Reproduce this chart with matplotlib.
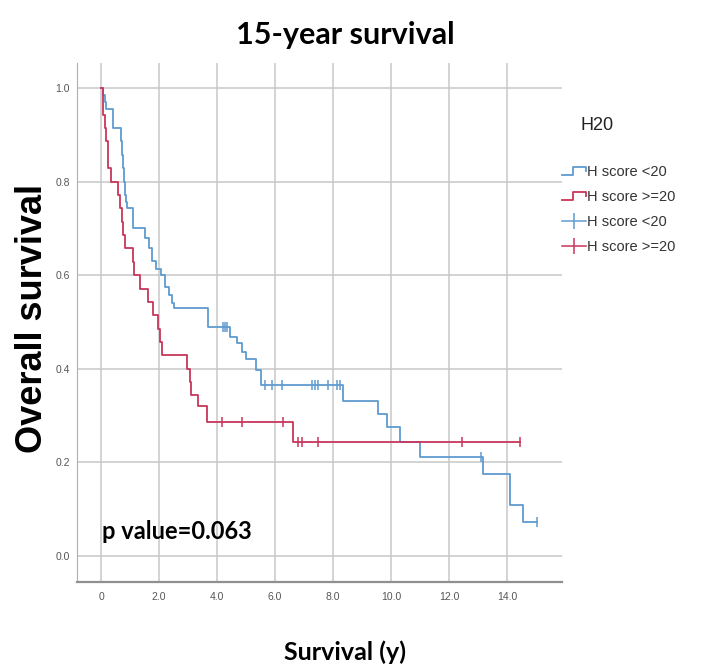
import matplotlib
matplotlib.use("Agg")
import matplotlib.pyplot as plt
import numpy as np
from matplotlib.lines import Line2D
from matplotlib.legend_handler import HandlerBase

# Kaplan-Meier steps: (time of event, survival after it)
low_times = [0.0, 0.05, 0.12, 0.15, 0.40, 0.70, 0.72, 0.76, 0.78, 0.82, 0.85, 0.90,
             1.10, 1.50, 1.65, 1.75, 1.90, 2.05, 2.20, 2.35, 2.45, 2.50, 3.70,
             4.45, 4.70, 4.85, 5.00, 5.35, 5.50, 8.34, 9.55, 9.86, 10.30, 11.00,
             13.17, 14.10, 14.55]
low_surv = [1.0, 0.985, 0.97, 0.955, 0.914, 0.886, 0.857, 0.829, 0.80, 0.771, 0.757, 0.743,
            0.70, 0.68, 0.657, 0.63, 0.614, 0.60, 0.575, 0.557, 0.54, 0.53, 0.49,
            0.467, 0.455, 0.435, 0.42, 0.397, 0.365, 0.332, 0.304, 0.275, 0.243, 0.211,
            0.176, 0.108, 0.072]
low_censored = [4.20, 4.28, 4.35, 5.66, 5.90, 6.24, 7.28, 7.38, 7.48, 7.83, 8.14, 8.24,
                13.10, 15.03]

high_times = [0.0, 0.05, 0.08, 0.12, 0.18, 0.22, 0.25, 0.33, 0.57, 0.65, 0.72, 0.76,
              0.82, 1.10, 1.12, 1.35, 1.60, 1.80, 1.97, 2.03, 2.10, 2.95, 3.07,
              3.10, 3.35, 3.65, 6.62]
high_surv = [1.0, 0.971, 0.943, 0.914, 0.886, 0.857, 0.829, 0.80, 0.771, 0.743, 0.714, 0.686,
             0.657, 0.629, 0.60, 0.571, 0.543, 0.514, 0.486, 0.457, 0.429, 0.40, 0.371,
             0.343, 0.32, 0.286, 0.243]
high_censored = [4.17, 4.86, 6.28, 6.80, 6.93, 7.48, 12.45, 14.45]

x_ticks = [0, 2, 4, 6, 8, 10, 12, 14]
x_ticklabels = ["0", "2.0", "4.0", "6.0", "8.0", "10.0", "12.0", "14.0"]
y_ticks = [0.0, 0.2, 0.4, 0.6, 0.8, 1.0]
legend_labels = ["H score <20", "H score >=20", "H score <20", "H score >=20"]

blue = "#5f9bd0"
red = "#c8365a"


def surv_at(times, surv, t):
    i = np.searchsorted(times, t, side="right") - 1
    return np.asarray(surv)[i]


def draw_km(ax, times, surv, censored, color):
    end = max(times[-1], max(censored))
    step, = ax.step(times + [end], surv + [surv[-1]], where="post", color=color, lw=1.3)
    cens, = ax.plot(censored, surv_at(times, surv, censored), ls="none", marker="|",
                    ms=7, mew=1.1, color=color)
    return step, cens


class StepHandler(HandlerBase):
    # SPSS style step symbol for the survival lines
    def create_artists(self, legend, orig_handle, xdescent, ydescent, width, height,
                       fontsize, trans):
        x0, y0 = -xdescent, -ydescent
        xm = x0 + 0.45 * width
        xs = [x0, xm, xm, x0 + width, x0 + width]
        ys = [y0 + 0.1 * height, y0 + 0.1 * height, y0 + 0.9 * height,
              y0 + 0.9 * height, y0 + 0.55 * height]
        line = Line2D(xs, ys, color=orig_handle.get_color(), lw=1.3)
        line.set_transform(trans)
        return [line]


fig = plt.figure(figsize=(7.01, 6.67), dpi=100)
ax = fig.add_axes([0.110, 0.1274, 0.692, 0.778])

low_step, _ = draw_km(ax, low_times, low_surv, low_censored, blue)
high_step, _ = draw_km(ax, high_times, high_surv, high_censored, red)

ax.set_xlim(-0.83, 15.9)
ax.set_ylim(-0.0556, 1.053)
ax.set_xticks(x_ticks)
ax.set_xticklabels(x_ticklabels)
ax.set_yticks(y_ticks)
ax.set_yticklabels([f"{v:.1f}" for v in y_ticks])
ax.tick_params(length=0, pad=7, labelsize=7.5, labelcolor="#555555")
ax.tick_params(axis="y", pad=5)
for lab in ax.get_xticklabels() + ax.get_yticklabels():
    lab.set_family("Liberation Sans")
ax.grid(True, color="#c8c8c8", lw=1.1)
ax.set_axisbelow(True)
for s in ["top", "right"]:
    ax.spines[s].set_visible(False)
ax.spines["left"].set_color("#b0b0b0")
ax.spines["bottom"].set_color("#909090")
ax.spines["bottom"].set_linewidth(1.6)

ax.set_ylabel("Overall survival", fontsize=26, fontweight="bold",
              family="Liberation Sans")
ax.yaxis.set_label_coords(-0.056, 0.507)
ax.set_xlabel("Survival (y)", fontsize=18, fontweight="bold", family="Lato")
ax.xaxis.set_label_coords(0.553, -0.113)

fig.text(0.492, 0.948, "15-year survival", ha="center", va="center",
         fontsize=22, fontweight="bold", family="Lato")
ax.text(0.03, 0.052, "p value=0.063", ha="left", va="center",
        fontsize=17, fontweight="bold", family="Lato")

low_cens_proxy = Line2D([], [], color=blue, lw=1.1, marker="|", ms=12, mew=1.1)
high_cens_proxy = Line2D([], [], color=red, lw=1.1, marker="|", ms=12, mew=1.1)
leg = fig.legend([low_step, high_step, low_cens_proxy, high_cens_proxy], legend_labels,
                 loc="upper left", bbox_to_anchor=(0.792, 0.763), borderpad=0,
                 frameon=False, handlelength=1.6, handletextpad=0.05,
                 labelspacing=0.75, prop={"family": "Liberation Sans", "size": 10.5},
                 handler_map={low_step: StepHandler(), high_step: StepHandler()})
for t in leg.get_texts():
    t.set_color("#333333")
fig.text(597 / 701, 1 - 126 / 667, "H20", ha="center", va="center",
         fontsize=13, family="Liberation Sans", color="#222222")

fig.savefig("out.png", dpi=100)
